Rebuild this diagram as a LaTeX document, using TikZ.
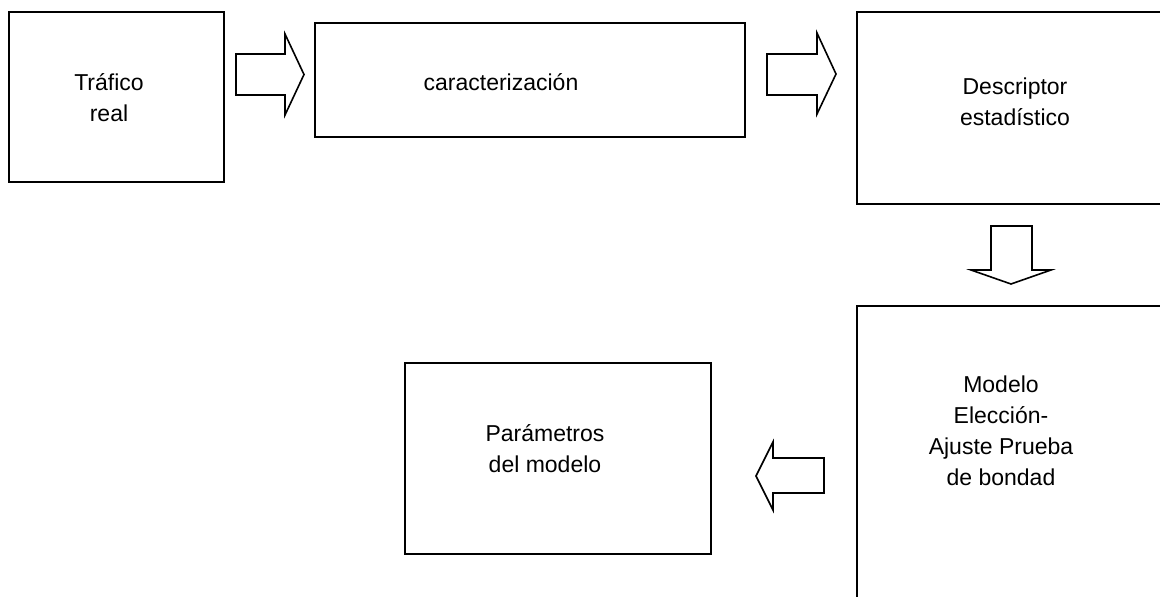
\documentclass[tikz,border=0pt]{standalone}
\usepackage{fontspec}
\setmainfont{Liberation Sans}
\begin{document}
\begin{tikzpicture}[x=1pt,y=-1pt,
  box/.style={draw=black, line width=1.6pt, rectangle, inner sep=0pt},
  lbl/.style={align=center, inner sep=0pt, font=\fontsize{23}{31}\selectfont},
  blockarrow/.style={draw=black, line width=1.6pt, line join=miter, fill=white}]
\useasboundingbox (0,0) rectangle (1160,597);
\clip (0,0) rectangle (1160,597);
% boxes
\node[box, minimum width=215pt, minimum height=170pt] (b1) at (116.5,97) {};
\node[box, minimum width=430pt, minimum height=114pt] (b2) at (530,80) {};
\node[box, minimum width=323pt, minimum height=192pt] (b3) at (1018.5,108) {};
\node[box, minimum width=323pt, minimum height=314pt] (b4) at (1018.5,463) {};
\node[box, minimum width=306pt, minimum height=191pt] (b5) at (558,458.5) {};
% texts
\node[lbl, anchor=north] (t1) at (109,68.3) {\strut Tráfico\\\strut real};
\node[lbl, anchor=base] (t2) at (501,90) {caracterización};
\node[lbl, anchor=north] (t3) at (1015,72.3) {\strut Descriptor\\\strut estadístico};
\node[lbl, anchor=north] (t4) at (1001,370.3) {\strut Modelo\\\strut Elección-\\\strut Ajuste Prueba\\\strut de bondad};
\node[lbl, anchor=north] (t5) at (545,419.3) {\strut Parámetros\\\strut del modelo};
% block arrows
\draw[blockarrow] (236,54) -- (285,54) -- (285,34) -- (304,74.5) -- (285,115) -- (285,95) -- (236,95) -- cycle;
\draw[blockarrow] (767,54) -- (817,54) -- (817,33) -- (836,74) -- (817,114) -- (817,95) -- (767,95) -- cycle;
\draw[blockarrow] (991,226) -- (1032,226) -- (1032,270) -- (1051,270) -- (1011,284) -- (971,270) -- (991,270) -- cycle;
\draw[blockarrow] (824,458) -- (773,458) -- (773,442) -- (756,476) -- (773,510) -- (773,493) -- (824,493) -- cycle;
\end{tikzpicture}
\end{document}
